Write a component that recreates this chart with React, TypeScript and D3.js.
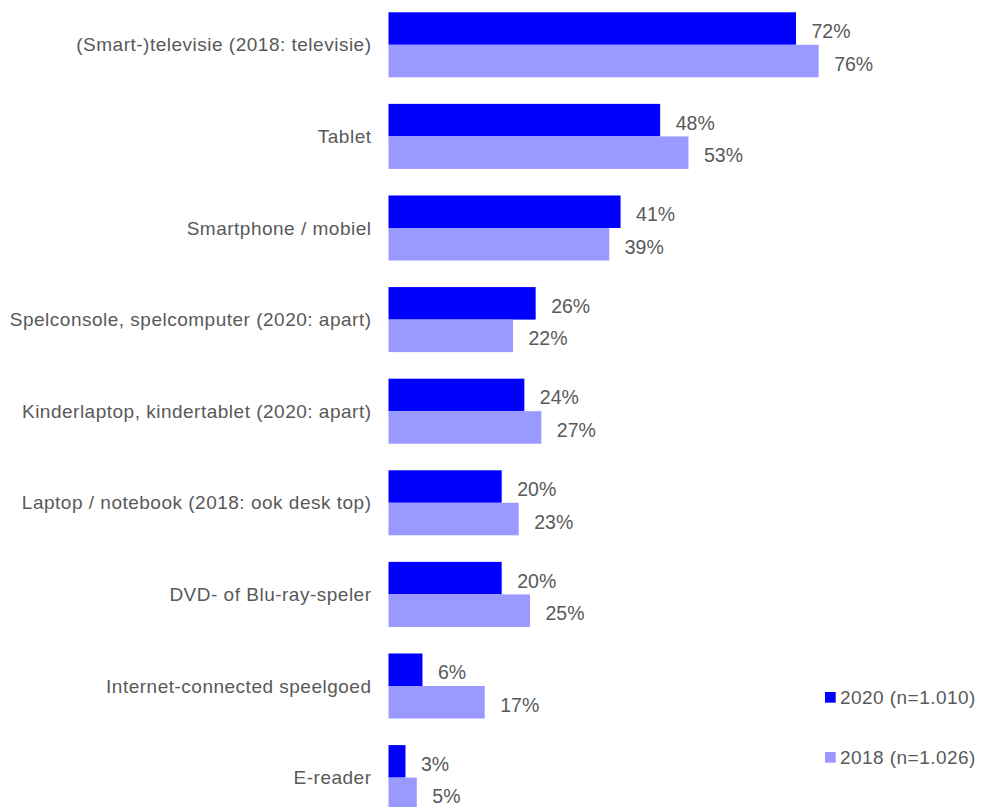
import React from "react";
import * as d3 from "d3";

const categories = [
  "(Smart-)televisie (2018: televisie)",
  "Tablet",
  "Smartphone / mobiel",
  "Spelconsole, spelcomputer (2020: apart)",
  "Kinderlaptop, kindertablet (2020: apart)",
  "Laptop / notebook (2018: ook desk top)",
  "DVD- of Blu-ray-speler",
  "Internet-connected speelgoed",
  "E-reader",
];
const values2020 = [72, 48, 41, 26, 24, 20, 20, 6, 3];
const values2018 = [76, 53, 39, 22, 27, 23, 25, 17, 5];
const seriesNames = ["2020 (n=1.010)", "2018 (n=1.026)"];
const seriesColors = ["#0000ff", "#9999ff"];

const W = 981;
const H = 807;
const FONT = "'Liberation Sans', Arial, sans-serif";
const TEXT = "#595959";

export default function App() {
  const x = d3.scaleLinear().domain([0, 100]).range([388.5, 954.5]);
  const y = d3
    .scaleBand<string>()
    .domain(categories)
    .range([-1, 823.4])
    .paddingInner(0.29)
    .paddingOuter(0.145);
  const inner = d3
    .scaleBand<string>()
    .domain(["2020", "2018"])
    .range([0, y.bandwidth()]);
  const series = [values2020, values2018];
  const keys = ["2020", "2018"];

  return (
    <svg
      width={W}
      height={H}
      style={{ position: "absolute", left: 0, top: 0, display: "block" }}
      fontFamily={FONT}
    >
      <rect width={W} height={H} fill="#ffffff" />
      {categories.map((c, i) => {
        const y0 = y(c)!;
        return (
          <g key={c}>
            <text
              x={371.5}
              y={y0 + y.bandwidth() / 2 + 6.5}
              textAnchor="end"
              fontSize={19}
              letterSpacing={0.5}
              fill={TEXT}
            >
              {c}
            </text>
            {series.map((vals, s) => {
              const by = y0 + inner(keys[s])!;
              const bh = inner.bandwidth();
              return (
                <g key={s}>
                  <rect
                    x={x(0)}
                    y={by}
                    width={x(vals[i]) - x(0)}
                    height={bh}
                    fill={seriesColors[s]}
                  />
                  <text
                    x={x(vals[i]) + 15.5}
                    y={by + bh / 2 + 9.5}
                    fontSize={19.5}
                    fill={TEXT}
                  >
                    {vals[i]}%
                  </text>
                </g>
              );
            })}
          </g>
        );
      })}
      {seriesNames.map((n, s) => {
        const cy = 697.3 + s * 60;
        return (
          <g key={n}>
            <rect x={825} y={cy - 5.3} width={10.7} height={10.7} fill={seriesColors[s]} />
            <text x={840} y={cy + 7} fontSize={19} letterSpacing={0.45} fill={TEXT}>
              {n}
            </text>
          </g>
        );
      })}
    </svg>
  );
}
